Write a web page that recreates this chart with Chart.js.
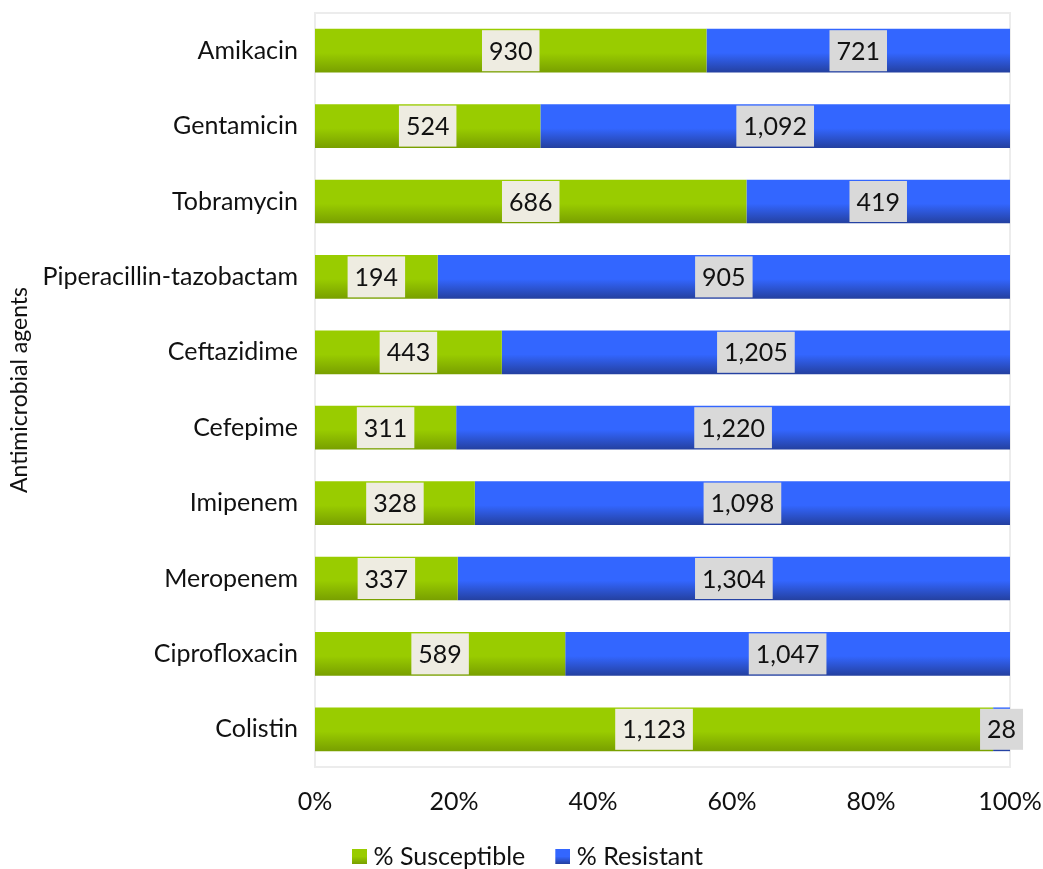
<!DOCTYPE html>
<html lang="en">
<head>
<meta charset="UTF-8">
<title>Antimicrobial susceptibility</title>
<script src="https://cdn.jsdelivr.net/npm/chart.js"></script>
<style>
    html, body { margin: 0; padding: 0; background: #ffffff; }
    #wrap { width: 1043px; height: 869px; }
</style>
</head>
<body>
<div id="wrap"><canvas id="chart" width="1043" height="869"></canvas></div>
<script>
// agents, top to bottom
var agents = ['Amikacin', 'Gentamicin', 'Tobramycin', 'Piperacillin-tazobactam', 'Ceftazidime',
              'Cefepime', 'Imipenem', 'Meropenem', 'Ciprofloxacin', 'Colistin'];
// isolate counts
var susceptible = [930, 524, 686, 194, 443, 311, 328, 337, 589, 1123];
var resistant   = [721, 1092, 419, 905, 1205, 1220, 1098, 1304, 1047, 28];
var xTicks = [0, 20, 40, 60, 80, 100];

var FONT = 'Lato, "Open Sans", sans-serif';
var TEXT = '#111111';

// share of each bar (stacked to 100%)
function share(a, b) {
    return a.map(function (v, i) { return v / (v + b[i]) * 100; });
}

var BAR_PCT = 0.58;

// vertical gradient: flat on top, darker toward the bottom edge
function barFill(top, bottom) {
    return function (context) {
        var chart = context.chart;
        var y = chart.scales.y;
        if (!chart.chartArea || !y) return top;
        var c = y.getPixelForValue(context.dataIndex);
        var h = (y.height / agents.length) * BAR_PCT;
        var g = chart.ctx.createLinearGradient(0, c - h / 2, 0, c + h / 2);
        g.addColorStop(0, top);
        g.addColorStop(0.55, top);
        g.addColorStop(1, bottom);
        return g;
    };
}

// legend swatch; the blank strip on the left pulls the square closer to its text
function legendSwatch(top, bottom) {
    var c = document.createElement('canvas');
    c.width = 27; c.height = 15;
    var x = c.getContext('2d');
    var g = x.createLinearGradient(0, 0, 0, 15);
    g.addColorStop(0, top);
    g.addColorStop(0.5, top);
    g.addColorStop(1, bottom);
    x.fillStyle = g;
    x.fillRect(12, 0, 15, 15);
    return c;
}

// light frame round the plot area
var frame = {
    id: 'frame',
    beforeDatasetsDraw: function (chart) {
        var a = chart.chartArea, ctx = chart.ctx;
        ctx.save();
        ctx.strokeStyle = '#ececec';
        ctx.lineWidth = 2;
        ctx.strokeRect(a.left, a.top, a.right - a.left, a.bottom - a.top);
        ctx.restore();
    }
};

// count labels in boxes at the middle of each segment
var counts = [susceptible, resistant];
var boxColors = ['#eeece1', '#d9d9d9'];
var valueLabels = {
    id: 'valueLabels',
    afterDatasetsDraw: function (chart) {
        var ctx = chart.ctx;
        ctx.save();
        ctx.font = '25px ' + FONT;
        ctx.textAlign = 'center';
        ctx.textBaseline = 'middle';
        chart.data.datasets.forEach(function (ds, di) {
            chart.getDatasetMeta(di).data.forEach(function (bar, i) {
                var txt = counts[di][i].toLocaleString('en-US');
                var cx = (bar.x + bar.base) / 2;
                var w = ctx.measureText(txt).width + 14;
                var h = 41;
                ctx.fillStyle = boxColors[di];
                ctx.fillRect(cx - w / 2, bar.y - h / 2, w, h);
                ctx.fillStyle = TEXT;
                ctx.fillText(txt, cx, bar.y + 1);
            });
        });
        ctx.restore();
    }
};

new Chart(document.getElementById('chart'), {
    type: 'bar',
    data: {
        labels: agents,
        datasets: [{
            label: '% Susceptible',
            data: share(susceptible, resistant),
            backgroundColor: barFill('#99cc00', '#789f00'),
            pointStyle: legendSwatch('#99cc00', '#789f00'),
            barPercentage: BAR_PCT,
            categoryPercentage: 1
        }, {
            label: '% Resistant',
            data: share(resistant, susceptible),
            backgroundColor: barFill('#3366ff', '#24409f'),
            pointStyle: legendSwatch('#3366ff', '#24409f'),
            barPercentage: BAR_PCT,
            categoryPercentage: 1
        }]
    },
    options: {
        indexAxis: 'y',
        responsive: false,
        animation: false,
        layout: { padding: { top: 13, right: 0, left: 6, bottom: -10 } },
        scales: {
            x: {
                stacked: true,
                min: 0,
                max: 100,
                afterBuildTicks: function (s) {
                    s.ticks = xTicks.map(function (v) { return { value: v }; });
                },
                grid: { display: false, drawTicks: false },
                border: { display: false },
                ticks: {
                    padding: 20,
                    color: TEXT,
                    font: { family: FONT, size: 25 },
                    callback: function (v) { return v + '%'; }
                },
                afterFit: function (s) {
                    s.height = 53;
                    s.paddingLeft = 0;
                    s.paddingRight = 33;
                }
            },
            y: {
                stacked: true,
                grid: { display: false, drawTicks: false },
                border: { display: false },
                ticks: {
                    padding: 17,
                    color: TEXT,
                    font: { family: FONT, size: 25 }
                },
                title: {
                    display: true,
                    text: 'Antimicrobial agents',
                    color: TEXT,
                    padding: 0,
                    font: { family: FONT, size: 23 }
                },
                afterFit: function (s) {
                    s.width = 309;
                    s.paddingTop = 0;
                    s.paddingBottom = 0;
                }
            }
        },
        plugins: {
            legend: {
                position: 'bottom',
                labels: {
                    usePointStyle: true,
                    color: TEXT,
                    boxWidth: 15,
                    boxHeight: 15,
                    pointStyleWidth: 15,
                    padding: 24,
                    font: { family: FONT, size: 25 }
                }
            },
            tooltip: { enabled: false }
        }
    },
    plugins: [frame, valueLabels]
});
</script>
</body>
</html>
